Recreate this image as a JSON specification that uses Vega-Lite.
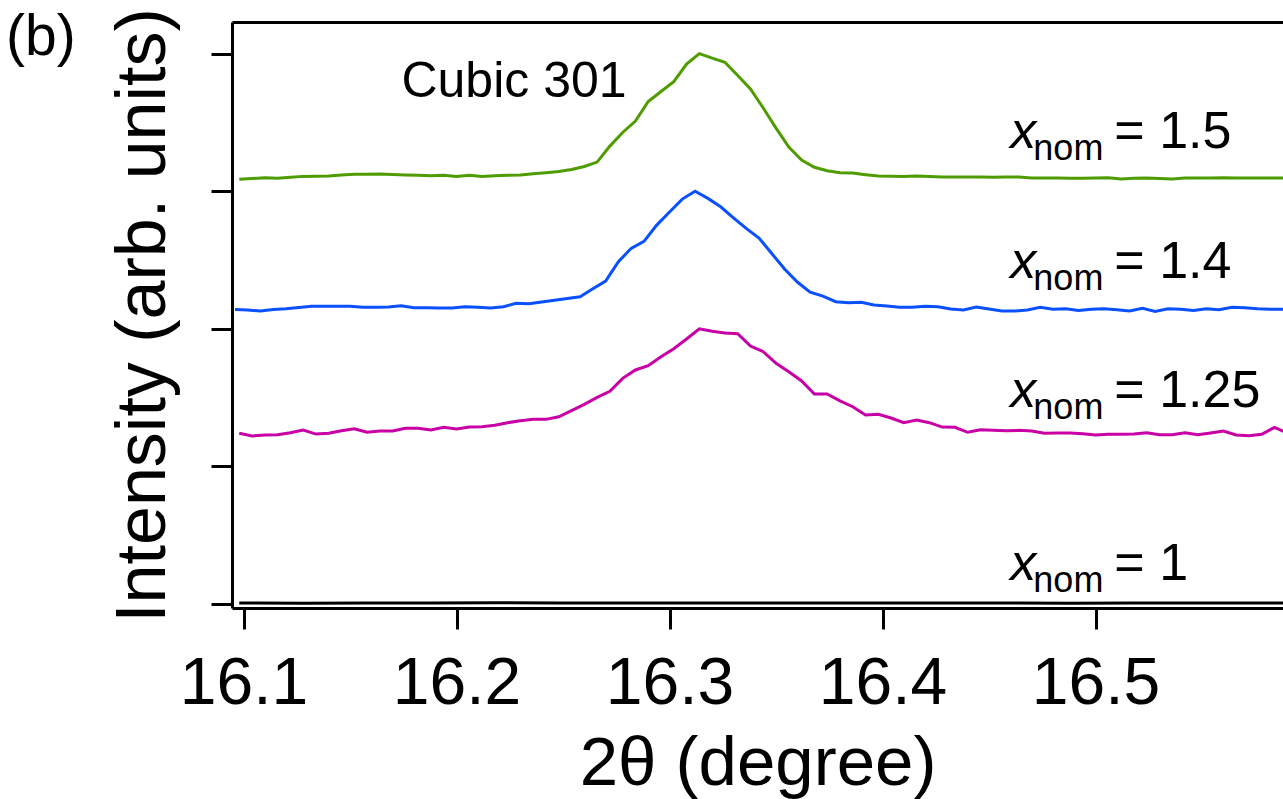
{
  "$schema": "https://vega.github.io/schema/vega-lite/v6.json",
  "width": 1051,
  "height": 586,
  "autosize": {"type": "none"},
  "padding": {"left": 232, "top": 22, "right": 0, "bottom": 191},
  "background": "white",
  "title": {
    "text": "(b)",
    "anchor": "start",
    "frame": "group",
    "orient": "top",
    "offset": -104,
    "dx": -226,
    "baseline": "alphabetic",
    "font": "Liberation Sans",
    "fontSize": 57,
    "fontWeight": "normal",
    "color": "black"
  },
  "config": {
    "view": {"stroke": null},
    "font": "Liberation Sans",
    "axis": {
      "grid": false,
      "domainColor": "black",
      "domainWidth": 3,
      "tickColor": "black",
      "tickWidth": 3,
      "tickSize": 21,
      "labelFont": "Liberation Sans",
      "titleFont": "Liberation Sans",
      "labelColor": "black",
      "titleColor": "black",
      "titleFontWeight": "normal"
    }
  },
  "datasets": {
    "scans": [
      {"xnom":"1.5","angle":16.098,"intensity":3.087},{"xnom":"1.5","angle":16.104,"intensity":3.092},{"xnom":"1.5","angle":16.110,"intensity":3.098},{"xnom":"1.5","angle":16.116,"intensity":3.094},{"xnom":"1.5","angle":16.122,"intensity":3.101},{"xnom":"1.5","angle":16.128,"intensity":3.108},{"xnom":"1.5","angle":16.134,"intensity":3.109},{"xnom":"1.5","angle":16.140,"intensity":3.110},{"xnom":"1.5","angle":16.146,"intensity":3.118},{"xnom":"1.5","angle":16.152,"intensity":3.123},
      {"xnom":"1.5","angle":16.158,"intensity":3.124},{"xnom":"1.5","angle":16.164,"intensity":3.125},{"xnom":"1.5","angle":16.170,"intensity":3.121},{"xnom":"1.5","angle":16.176,"intensity":3.118},{"xnom":"1.5","angle":16.182,"intensity":3.116},{"xnom":"1.5","angle":16.188,"intensity":3.113},{"xnom":"1.5","angle":16.194,"intensity":3.116},{"xnom":"1.5","angle":16.200,"intensity":3.108},{"xnom":"1.5","angle":16.206,"intensity":3.116},{"xnom":"1.5","angle":16.212,"intensity":3.108},
      {"xnom":"1.5","angle":16.218,"intensity":3.112},{"xnom":"1.5","angle":16.224,"intensity":3.116},{"xnom":"1.5","angle":16.230,"intensity":3.118},{"xnom":"1.5","angle":16.236,"intensity":3.127},{"xnom":"1.5","angle":16.242,"intensity":3.134},{"xnom":"1.5","angle":16.248,"intensity":3.143},{"xnom":"1.5","angle":16.254,"intensity":3.158},{"xnom":"1.5","angle":16.260,"intensity":3.180},{"xnom":"1.5","angle":16.266,"intensity":3.212},{"xnom":"1.5","angle":16.272,"intensity":3.328},
      {"xnom":"1.5","angle":16.278,"intensity":3.427},{"xnom":"1.5","angle":16.284,"intensity":3.510},{"xnom":"1.5","angle":16.290,"intensity":3.652},{"xnom":"1.5","angle":16.296,"intensity":3.725},{"xnom":"1.5","angle":16.302,"intensity":3.797},{"xnom":"1.5","angle":16.308,"intensity":3.924},{"xnom":"1.5","angle":16.314,"intensity":4.000},{"xnom":"1.5","angle":16.320,"intensity":3.968},{"xnom":"1.5","angle":16.326,"intensity":3.937},{"xnom":"1.5","angle":16.332,"intensity":3.841},
      {"xnom":"1.5","angle":16.338,"intensity":3.743},{"xnom":"1.5","angle":16.344,"intensity":3.605},{"xnom":"1.5","angle":16.350,"intensity":3.459},{"xnom":"1.5","angle":16.356,"intensity":3.321},{"xnom":"1.5","angle":16.362,"intensity":3.227},{"xnom":"1.5","angle":16.368,"intensity":3.174},{"xnom":"1.5","angle":16.374,"intensity":3.149},{"xnom":"1.5","angle":16.380,"intensity":3.134},{"xnom":"1.5","angle":16.386,"intensity":3.132},{"xnom":"1.5","angle":16.392,"intensity":3.120},
      {"xnom":"1.5","angle":16.398,"intensity":3.110},{"xnom":"1.5","angle":16.404,"intensity":3.109},{"xnom":"1.5","angle":16.410,"intensity":3.108},{"xnom":"1.5","angle":16.416,"intensity":3.110},{"xnom":"1.5","angle":16.422,"intensity":3.107},{"xnom":"1.5","angle":16.428,"intensity":3.103},{"xnom":"1.5","angle":16.434,"intensity":3.103},{"xnom":"1.5","angle":16.440,"intensity":3.104},{"xnom":"1.5","angle":16.446,"intensity":3.103},{"xnom":"1.5","angle":16.452,"intensity":3.102},
      {"xnom":"1.5","angle":16.458,"intensity":3.103},{"xnom":"1.5","angle":16.464,"intensity":3.103},{"xnom":"1.5","angle":16.470,"intensity":3.096},{"xnom":"1.5","angle":16.476,"intensity":3.096},{"xnom":"1.5","angle":16.482,"intensity":3.096},{"xnom":"1.5","angle":16.488,"intensity":3.094},{"xnom":"1.5","angle":16.494,"intensity":3.094},{"xnom":"1.5","angle":16.500,"intensity":3.096},{"xnom":"1.5","angle":16.506,"intensity":3.098},{"xnom":"1.5","angle":16.512,"intensity":3.089},
      {"xnom":"1.5","angle":16.518,"intensity":3.094},{"xnom":"1.5","angle":16.524,"intensity":3.096},{"xnom":"1.5","angle":16.530,"intensity":3.092},{"xnom":"1.5","angle":16.536,"intensity":3.089},{"xnom":"1.5","angle":16.542,"intensity":3.096},{"xnom":"1.5","angle":16.548,"intensity":3.096},{"xnom":"1.5","angle":16.554,"intensity":3.096},{"xnom":"1.5","angle":16.560,"intensity":3.098},{"xnom":"1.5","angle":16.566,"intensity":3.096},{"xnom":"1.5","angle":16.572,"intensity":3.096},
      {"xnom":"1.5","angle":16.578,"intensity":3.096},{"xnom":"1.5","angle":16.584,"intensity":3.096},{"xnom":"1.5","angle":16.590,"intensity":3.096},

      {"xnom":"1.4","angle":16.096,"intensity":2.140},{"xnom":"1.4","angle":16.102,"intensity":2.137},{"xnom":"1.4","angle":16.108,"intensity":2.129},{"xnom":"1.4","angle":16.114,"intensity":2.140},{"xnom":"1.4","angle":16.120,"intensity":2.146},{"xnom":"1.4","angle":16.126,"intensity":2.155},{"xnom":"1.4","angle":16.132,"intensity":2.164},{"xnom":"1.4","angle":16.138,"intensity":2.164},{"xnom":"1.4","angle":16.144,"intensity":2.164},{"xnom":"1.4","angle":16.150,"intensity":2.164},
      {"xnom":"1.4","angle":16.156,"intensity":2.156},{"xnom":"1.4","angle":16.162,"intensity":2.157},{"xnom":"1.4","angle":16.168,"intensity":2.158},{"xnom":"1.4","angle":16.174,"intensity":2.168},{"xnom":"1.4","angle":16.180,"intensity":2.153},{"xnom":"1.4","angle":16.186,"intensity":2.153},{"xnom":"1.4","angle":16.192,"intensity":2.152},{"xnom":"1.4","angle":16.198,"intensity":2.151},{"xnom":"1.4","angle":16.204,"intensity":2.161},{"xnom":"1.4","angle":16.210,"intensity":2.156},
      {"xnom":"1.4","angle":16.216,"intensity":2.151},{"xnom":"1.4","angle":16.222,"intensity":2.161},{"xnom":"1.4","angle":16.228,"intensity":2.185},{"xnom":"1.4","angle":16.234,"intensity":2.182},{"xnom":"1.4","angle":16.240,"intensity":2.195},{"xnom":"1.4","angle":16.246,"intensity":2.207},{"xnom":"1.4","angle":16.252,"intensity":2.220},{"xnom":"1.4","angle":16.258,"intensity":2.233},{"xnom":"1.4","angle":16.264,"intensity":2.291},{"xnom":"1.4","angle":16.270,"intensity":2.347},
      {"xnom":"1.4","angle":16.276,"intensity":2.488},{"xnom":"1.4","angle":16.282,"intensity":2.585},{"xnom":"1.4","angle":16.288,"intensity":2.636},{"xnom":"1.4","angle":16.294,"intensity":2.754},{"xnom":"1.4","angle":16.300,"intensity":2.849},{"xnom":"1.4","angle":16.306,"intensity":2.943},{"xnom":"1.4","angle":16.312,"intensity":3.000},{"xnom":"1.4","angle":16.318,"intensity":2.948},{"xnom":"1.4","angle":16.324,"intensity":2.887},{"xnom":"1.4","angle":16.330,"intensity":2.807},
      {"xnom":"1.4","angle":16.336,"intensity":2.730},{"xnom":"1.4","angle":16.342,"intensity":2.660},{"xnom":"1.4","angle":16.348,"intensity":2.547},{"xnom":"1.4","angle":16.354,"intensity":2.435},{"xnom":"1.4","angle":16.360,"intensity":2.340},{"xnom":"1.4","angle":16.366,"intensity":2.267},{"xnom":"1.4","angle":16.372,"intensity":2.238},{"xnom":"1.4","angle":16.378,"intensity":2.197},{"xnom":"1.4","angle":16.384,"intensity":2.190},{"xnom":"1.4","angle":16.390,"intensity":2.193},
      {"xnom":"1.4","angle":16.396,"intensity":2.173},{"xnom":"1.4","angle":16.402,"intensity":2.166},{"xnom":"1.4","angle":16.408,"intensity":2.156},{"xnom":"1.4","angle":16.414,"intensity":2.156},{"xnom":"1.4","angle":16.420,"intensity":2.164},{"xnom":"1.4","angle":16.426,"intensity":2.161},{"xnom":"1.4","angle":16.432,"intensity":2.144},{"xnom":"1.4","angle":16.438,"intensity":2.137},{"xnom":"1.4","angle":16.444,"intensity":2.158},{"xnom":"1.4","angle":16.450,"intensity":2.144},
      {"xnom":"1.4","angle":16.456,"intensity":2.129},{"xnom":"1.4","angle":16.462,"intensity":2.129},{"xnom":"1.4","angle":16.468,"intensity":2.137},{"xnom":"1.4","angle":16.474,"intensity":2.156},{"xnom":"1.4","angle":16.480,"intensity":2.142},{"xnom":"1.4","angle":16.486,"intensity":2.146},{"xnom":"1.4","angle":16.492,"intensity":2.134},{"xnom":"1.4","angle":16.498,"intensity":2.142},{"xnom":"1.4","angle":16.504,"intensity":2.146},{"xnom":"1.4","angle":16.510,"intensity":2.139},
      {"xnom":"1.4","angle":16.516,"intensity":2.129},{"xnom":"1.4","angle":16.522,"intensity":2.149},{"xnom":"1.4","angle":16.528,"intensity":2.127},{"xnom":"1.4","angle":16.534,"intensity":2.146},{"xnom":"1.4","angle":16.540,"intensity":2.142},{"xnom":"1.4","angle":16.546,"intensity":2.134},{"xnom":"1.4","angle":16.552,"intensity":2.146},{"xnom":"1.4","angle":16.558,"intensity":2.139},{"xnom":"1.4","angle":16.564,"intensity":2.156},{"xnom":"1.4","angle":16.570,"intensity":2.153},
      {"xnom":"1.4","angle":16.576,"intensity":2.146},{"xnom":"1.4","angle":16.582,"intensity":2.142},{"xnom":"1.4","angle":16.588,"intensity":2.142},

      {"xnom":"1.25","angle":16.098,"intensity":1.241},{"xnom":"1.25","angle":16.104,"intensity":1.221},{"xnom":"1.25","angle":16.110,"intensity":1.228},{"xnom":"1.25","angle":16.116,"intensity":1.230},{"xnom":"1.25","angle":16.122,"intensity":1.245},{"xnom":"1.25","angle":16.128,"intensity":1.265},{"xnom":"1.25","angle":16.134,"intensity":1.235},{"xnom":"1.25","angle":16.140,"intensity":1.241},{"xnom":"1.25","angle":16.146,"intensity":1.259},{"xnom":"1.25","angle":16.152,"intensity":1.274},
      {"xnom":"1.25","angle":16.158,"intensity":1.248},{"xnom":"1.25","angle":16.164,"intensity":1.257},{"xnom":"1.25","angle":16.170,"intensity":1.257},{"xnom":"1.25","angle":16.176,"intensity":1.277},{"xnom":"1.25","angle":16.182,"intensity":1.277},{"xnom":"1.25","angle":16.188,"intensity":1.265},{"xnom":"1.25","angle":16.194,"intensity":1.284},{"xnom":"1.25","angle":16.200,"intensity":1.272},{"xnom":"1.25","angle":16.206,"intensity":1.286},{"xnom":"1.25","angle":16.212,"intensity":1.289},
      {"xnom":"1.25","angle":16.218,"intensity":1.299},{"xnom":"1.25","angle":16.224,"intensity":1.318},{"xnom":"1.25","angle":16.230,"intensity":1.332},{"xnom":"1.25","angle":16.236,"intensity":1.342},{"xnom":"1.25","angle":16.242,"intensity":1.342},{"xnom":"1.25","angle":16.248,"intensity":1.361},{"xnom":"1.25","angle":16.254,"intensity":1.405},{"xnom":"1.25","angle":16.260,"intensity":1.451},{"xnom":"1.25","angle":16.266,"intensity":1.502},{"xnom":"1.25","angle":16.272,"intensity":1.546},
      {"xnom":"1.25","angle":16.278,"intensity":1.640},{"xnom":"1.25","angle":16.284,"intensity":1.701},{"xnom":"1.25","angle":16.290,"intensity":1.732},{"xnom":"1.25","angle":16.296,"intensity":1.797},{"xnom":"1.25","angle":16.302,"intensity":1.855},{"xnom":"1.25","angle":16.308,"intensity":1.926},{"xnom":"1.25","angle":16.314,"intensity":2.000},{"xnom":"1.25","angle":16.320,"intensity":1.982},{"xnom":"1.25","angle":16.326,"intensity":1.969},{"xnom":"1.25","angle":16.332,"intensity":1.964},
      {"xnom":"1.25","angle":16.338,"intensity":1.875},{"xnom":"1.25","angle":16.344,"intensity":1.834},{"xnom":"1.25","angle":16.350,"intensity":1.749},{"xnom":"1.25","angle":16.356,"intensity":1.688},{"xnom":"1.25","angle":16.362,"intensity":1.621},{"xnom":"1.25","angle":16.368,"intensity":1.526},{"xnom":"1.25","angle":16.374,"intensity":1.526},{"xnom":"1.25","angle":16.380,"intensity":1.477},{"xnom":"1.25","angle":16.386,"intensity":1.434},{"xnom":"1.25","angle":16.392,"intensity":1.374},
      {"xnom":"1.25","angle":16.398,"intensity":1.379},{"xnom":"1.25","angle":16.404,"intensity":1.352},{"xnom":"1.25","angle":16.410,"intensity":1.318},{"xnom":"1.25","angle":16.416,"intensity":1.337},{"xnom":"1.25","angle":16.422,"intensity":1.318},{"xnom":"1.25","angle":16.428,"intensity":1.286},{"xnom":"1.25","angle":16.434,"intensity":1.284},{"xnom":"1.25","angle":16.440,"intensity":1.248},{"xnom":"1.25","angle":16.446,"intensity":1.267},{"xnom":"1.25","angle":16.452,"intensity":1.262},
      {"xnom":"1.25","angle":16.458,"intensity":1.259},{"xnom":"1.25","angle":16.464,"intensity":1.262},{"xnom":"1.25","angle":16.470,"intensity":1.257},{"xnom":"1.25","angle":16.476,"intensity":1.241},{"xnom":"1.25","angle":16.482,"intensity":1.243},{"xnom":"1.25","angle":16.488,"intensity":1.243},{"xnom":"1.25","angle":16.494,"intensity":1.238},{"xnom":"1.25","angle":16.500,"intensity":1.228},{"xnom":"1.25","angle":16.506,"intensity":1.233},{"xnom":"1.25","angle":16.512,"intensity":1.233},
      {"xnom":"1.25","angle":16.518,"intensity":1.235},{"xnom":"1.25","angle":16.524,"intensity":1.245},{"xnom":"1.25","angle":16.530,"intensity":1.230},{"xnom":"1.25","angle":16.536,"intensity":1.230},{"xnom":"1.25","angle":16.542,"intensity":1.245},{"xnom":"1.25","angle":16.548,"intensity":1.230},{"xnom":"1.25","angle":16.554,"intensity":1.243},{"xnom":"1.25","angle":16.560,"intensity":1.257},{"xnom":"1.25","angle":16.566,"intensity":1.228},{"xnom":"1.25","angle":16.572,"intensity":1.223},
      {"xnom":"1.25","angle":16.578,"intensity":1.233},{"xnom":"1.25","angle":16.584,"intensity":1.284},{"xnom":"1.25","angle":16.590,"intensity":1.243},

      {"xnom":"1","angle":16.098,"intensity":0.007},{"xnom":"1","angle":16.128,"intensity":0.006},{"xnom":"1","angle":16.158,"intensity":0.007},{"xnom":"1","angle":16.188,"intensity":0.008},{"xnom":"1","angle":16.218,"intensity":0.009},{"xnom":"1","angle":16.248,"intensity":0.008},{"xnom":"1","angle":16.278,"intensity":0.008},{"xnom":"1","angle":16.308,"intensity":0.007},{"xnom":"1","angle":16.338,"intensity":0.007},{"xnom":"1","angle":16.368,"intensity":0.007},
      {"xnom":"1","angle":16.398,"intensity":0.008},{"xnom":"1","angle":16.428,"intensity":0.007},{"xnom":"1","angle":16.458,"intensity":0.007},{"xnom":"1","angle":16.488,"intensity":0.006},{"xnom":"1","angle":16.518,"intensity":0.007},{"xnom":"1","angle":16.548,"intensity":0.008},{"xnom":"1","angle":16.578,"intensity":0.007},{"xnom":"1","angle":16.590,"intensity":0.007}
    ],
    "curveLabels": [
      {"angle": 16.460, "intensity": 3.312, "value": "= 1.5"},
      {"angle": 16.460, "intensity": 2.367, "value": "= 1.4"},
      {"angle": 16.460, "intensity": 1.434, "value": "= 1.25"},
      {"angle": 16.460, "intensity": 0.174, "value": "= 1"}
    ],
    "peakLabel": [
      {"angle": 16.227, "intensity": 3.685, "label": "Cubic 301"}
    ]
  },
  "encoding": {
    "y": {
      "field": "intensity",
      "type": "quantitative",
      "title": "Intensity (arb. units)",
      "scale": {"domain": [-0.029, 4.23], "nice": false, "zero": false},
      "axis": {
        "orient": "left",
        "values": [0, 1, 2, 3, 4],
        "labels": false,
        "titleFontSize": 70,
        "titlePadding": 30
      }
    }
  },
  "layer": [
    {
      "data": {"name": "scans"},
      "mark": {"type": "line", "strokeWidth": 3},
      "encoding": {
        "x": {
          "field": "angle",
          "type": "quantitative",
          "scale": {"domain": [16.0946, 16.588], "nice": false, "zero": false},
          "axis": {
            "orient": "bottom",
            "values": [16.1, 16.2, 16.3, 16.4, 16.5],
            "format": ".1f",
            "labelFontSize": 66,
            "labelPadding": 22,
            "labelFlush": false,
            "labelOverlap": false,
            "title": "2θ (degree)",
            "titleFontSize": 69,
            "titlePadding": 13
          }
        },
        "color": {
          "field": "xnom",
          "type": "nominal",
          "scale": {
            "domain": ["1", "1.25", "1.4", "1.5"],
            "range": ["#000000", "#c800a6", "#0a50ff", "#4f9c00"]
          },
          "legend": null
        }
      }
    },
    {
      "data": {"name": "peakLabel"},
      "mark": {"type": "text", "font": "Liberation Sans", "fontSize": 50, "align": "center", "baseline": "alphabetic", "color": "black"},
      "encoding": {
        "x": {
          "field": "angle",
          "type": "quantitative",
          "axis": {"orient": "top", "ticks": false, "labels": false, "title": null, "domain": true}
        },
        "text": {"field": "label"}
      }
    },
    {
      "data": {"name": "curveLabels"},
      "mark": {"type": "text", "text": "x", "font": "Liberation Sans", "fontStyle": "italic", "fontSize": 52, "align": "left", "baseline": "alphabetic", "color": "black"},
      "encoding": {
        "x": {"field": "angle", "type": "quantitative", "axis": null}
      }
    },
    {
      "data": {"name": "curveLabels"},
      "mark": {"type": "text", "text": "nom", "font": "Liberation Sans", "fontSize": 36, "align": "left", "baseline": "alphabetic", "dx": 23, "dy": 12, "color": "black"},
      "encoding": {
        "x": {"field": "angle", "type": "quantitative", "axis": null}
      }
    },
    {
      "data": {"name": "curveLabels"},
      "mark": {"type": "text", "font": "Liberation Sans", "fontSize": 52, "align": "left", "baseline": "alphabetic", "dx": 104, "color": "black"},
      "encoding": {
        "x": {"field": "angle", "type": "quantitative", "axis": null},
        "text": {"field": "value"}
      }
    }
  ],
  "resolve": {"axis": {"x": "independent"}}
}
